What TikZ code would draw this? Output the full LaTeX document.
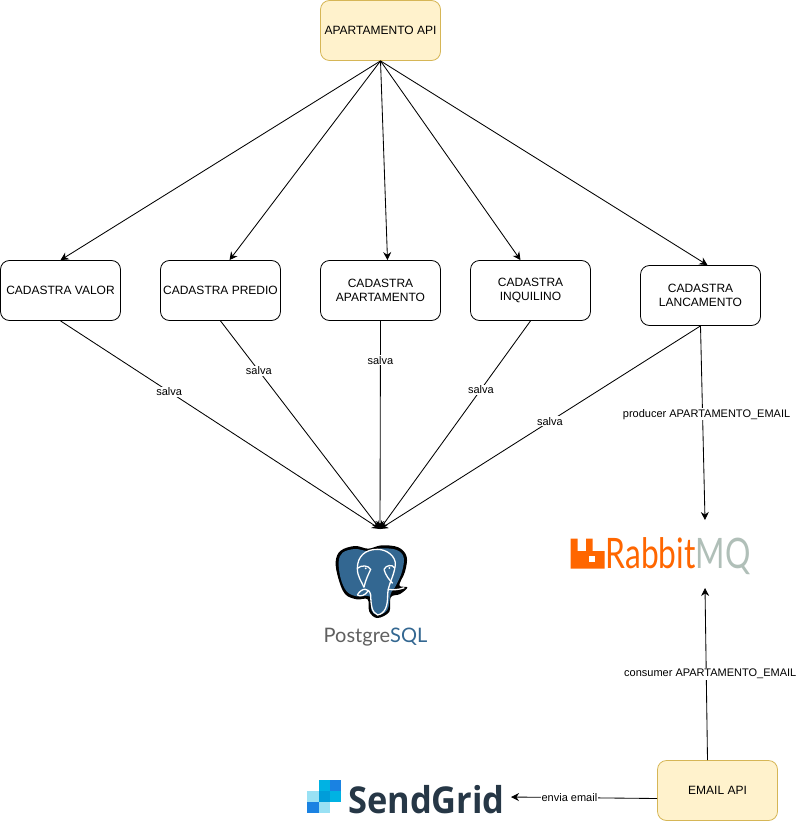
\documentclass[tikz,border=0pt]{standalone}
\usepackage{fontspec}
\setmainfont{Liberation Sans}
\newfontfamily\logofont{Lato}
\newfontfamily\gridfont{Open Sans}
\usetikzlibrary{arrows.meta,positioning,calc}
\definecolor{yellowbox}{HTML}{FFF2CC}
\definecolor{yellowline}{HTML}{D6B656}
\definecolor{pgblue}{HTML}{336791}
\definecolor{rabbitorange}{HTML}{FF6600}
\definecolor{rabbitgrey}{HTML}{B0BFB8}
\definecolor{gridnavy}{HTML}{263746}
\definecolor{gridlight}{HTML}{99E1F4}
\definecolor{gridcyan}{HTML}{00B2E3}
\definecolor{gridmid}{HTML}{009DD9}
\definecolor{gridblue}{HTML}{1A82E2}
\tikzset{
  cadastro/.style={draw, line width=0.8pt, rounded corners=9pt, inner sep=1pt, minimum width=120pt, minimum height=60pt, align=center, font=\fontsize{12}{14}\selectfont},
  api/.style={cadastro, fill=yellowbox, draw=yellowline},
  etiqueta/.style={fill=white, inner sep=1pt, font=\fontsize{11}{13}\selectfont},
  seta/.style={->, line width=0.85pt},
  contorno/.style={white, line width=1.3pt}
}
\begin{document}
\begin{tikzpicture}[x=1pt, y=-1pt, >={Stealth[length=8pt,width=8pt]}]
  \useasboundingbox (0,0) rectangle (797,821);

  \node[api] (apartamentoapi) at (380.5,30.5) {APARTAMENTO API};
  \node[api] (emailapi) at (717.5,790.5) {EMAIL API};

  \node[cadastro] (valor) at (60.5,290.5) {CADASTRA VALOR};
  \node[cadastro] (predio) at (220.5,290.5) {CADASTRA PREDIO};
  \node[cadastro] (apartamento) at (380.5,290.5) {CADASTRA\\APARTAMENTO};
  \node[cadastro] (inquilino) at (530.5,290.5) {CADASTRA\\INQUILINO};
  \node[cadastro] (lancamento) at (700.5,295.5) {CADASTRA\\LANCAMENTO};

  \coordinate (pgtop) at (380,529);
  \coordinate (rabbittop) at (705,520);
  \coordinate (rabbitbottom) at (705,588);
  \coordinate (gridright) at (511,797);

  % chamadas da api
  \draw[seta] (apartamentoapi.south) -- (valor.north);
  \draw[seta] (apartamentoapi.south) -- ([xshift=9pt]predio.north);
  \draw[seta] (apartamentoapi.south) -- ([xshift=7pt]apartamento.north);
  \draw[seta] (apartamentoapi.south) -- ([xshift=-10pt]inquilino.north);
  \draw[seta] (apartamentoapi.south) -- ([xshift=7pt]lancamento.north);

  % salva no banco
  \draw[seta] (valor.south) -- (pgtop) node[etiqueta, pos=0.34] {salva};
  \draw[seta] (predio.south) -- (pgtop) node[etiqueta, pos=0.24] {salva};
  \draw[seta] (apartamento.south) -- (pgtop) node[etiqueta, pos=0.19] {salva};
  \draw[seta] (inquilino.south) -- (pgtop) node[etiqueta, pos=0.33] {salva};
  \draw[seta] (lancamento.south) -- (pgtop) node[etiqueta, pos=0.47] {salva};

  % fila
  \draw[seta] (lancamento.south) -- (rabbittop) node[etiqueta, pos=0.455, xshift=4pt] {producer APARTAMENTO\_EMAIL};
  \draw[seta] ([xshift=-10pt]emailapi.north) -- (rabbitbottom) node[etiqueta, pos=0.5, xshift=4pt] {consumer APARTAMENTO\_EMAIL};
  \draw[seta] ([yshift=-8pt]emailapi.west) -- (gridright) node[etiqueta, pos=0.6] {envia email};

  % logo postgres
  \begin{scope}[shift={(300,500)}, scale=1/3]
    \fill[black] plot[smooth cycle, tension=0.6] coordinates {(107,185) (122,152) (165,138) (205,146) (245,136) (295,142) (320,170) (315,215) (298,256) (322,262) (300,282) (272,292) (268,335) (232,354) (208,335) (203,298) (170,298) (135,282) (115,235)};
    \fill[pgblue] plot[smooth cycle, tension=0.6] coordinates {(116,186) (128,158) (165,147) (205,153) (245,145) (290,150) (311,172) (306,215) (287,258) (272,282) (262,330) (232,345) (214,330) (210,290) (170,289) (140,274) (122,235)};
    % cabeca e tromba
    \draw[contorno] (172,285) .. controls (185,262) and (208,262) .. (212,285) .. controls (213,315) and (215,338) .. (233,345) .. controls (255,340) and (263,320) .. (263,285) .. controls (263,255) and (282,230) .. (286,195) .. controls (288,170) and (262,148) .. (232,148) .. controls (195,148) and (172,170) .. (172,205) .. controls (172,230) and (185,245) .. (192,262);
    % orelhas e presas
    \draw[contorno] (263,268) .. controls (280,270) and (295,270) .. (313,263);
    \draw[contorno] (172,285) .. controls (180,290) and (195,288) .. (205,272);
    \draw[contorno] (172,205) .. controls (185,194) and (205,196) .. (212,208) .. controls (206,222) and (198,235) .. (192,262);
    \draw[contorno] (252,208) .. controls (258,195) and (278,192) .. (284,204);
    \draw[contorno] (252,208) .. controls (256,225) and (268,240) .. (278,250);
    \fill[white] (197,205) circle (3);
    \fill[white] (268,204) circle (3);
  \end{scope}
  \node[anchor=base west, inner sep=0pt, font=\logofont\fontsize{20}{24}\selectfont, text=gray!75!black] (postgres) at (323.5,642) {Postgre\textcolor{pgblue}{SQL}};

  % logo rabbitmq
  \fill[rabbitorange] (570.7,538.5) -- (577.5,538.5) -- (577.5,551) -- (586,551) -- (586,538.5) -- (592.5,538.5) -- (592.5,551) -- (604.5,551) -- (604.5,568.5) -- (570.7,568.5) -- cycle;
  \fill[white] (588.5,555.5) rectangle (594.5,561.5);
  \node[anchor=base west, inner sep=0pt, xscale=0.755, font=\logofont\fontsize{42}{44}\selectfont, text=rabbitorange] (rabbitmq) at (605.5,568.5) {Rabbit\textcolor{rabbitgrey}{MQ}};

  % logo sendgrid
  \foreach \cx/\cy/\cor in {0/0/gridcyan, 1/0/gridblue, -1/1/gridlight, 0/1/gridmid, 1/1/gridcyan, -1/2/gridblue, 0/2/gridlight} {
    \fill[\cor] ({318.5+\cx*11.2},{780+\cy*11}) rectangle ++(11.2,11);
  }
  \node[anchor=base west, inner sep=0pt, xscale=0.93, font=\bfseries\gridfont\fontsize{37}{40}\selectfont, text=gridnavy] (sendgrid) at (348,813) {SendGrid};
\end{tikzpicture}
\end{document}
